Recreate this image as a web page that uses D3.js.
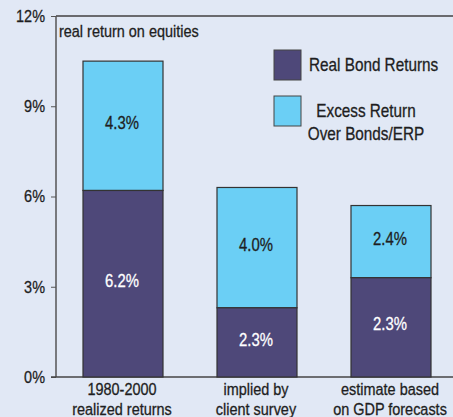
<!DOCTYPE html>
<html><head><meta charset="utf-8">
<script src="https://cdn.jsdelivr.net/npm/d3@7"></script>
<style>
html,body{margin:0;padding:0;background:#e1e8f5;}
svg{display:block;}
text{font-family:"Liberation Sans",Arial,sans-serif;}
</style></head>
<body>
<svg id="c" width="453" height="417"></svg>
<script>
const categories = [["1980-2000","realized returns"],["implied by","client survey"],["estimate based","on GDP forecasts"]];
const bondValues = [6.2, 2.3, 3.3];
const excessValues = [4.3, 4.0, 2.4];
const bondLabels = ["6.2%","2.3%","2.3%"];
const excessLabels = ["4.3%","4.0%","2.4%"];
const yTicks = [0,3,6,9,12];
const seriesNames = ["Real Bond Returns",["Excess Return","Over Bonds/ERP"]];
const colors = ["#4e4879","#6bcff5"];

(function(){
const SX = 0.85;
const svg = d3.select("#c");
function txt(parent, x, y, str, size, anchor, fill, dy){
  const gg = parent.append("g").attr("transform",`translate(${x},${y}) scale(${SX},1)`);
  return gg.append("text").attr("x",0).attr("y",0).attr("dy",dy||null).attr("text-anchor",anchor||"start")
    .attr("font-size",size).attr("fill",fill||"#1e1e22").attr("stroke",fill||"#1e1e22").attr("stroke-width",0.3).text(str);
}
const mL = 56, mR = 453, mT = 16, mB = 377;
const y = d3.scaleLinear().domain([0,12]).range([mB, mT]);
const x = d3.scaleBand().domain(d3.range(categories.length)).range([56, 458]).paddingInner(0.403).paddingOuter(0.2015);

svg.append("line").attr("x1",mL).attr("x2",mR).attr("y1",mT).attr("y2",mT).attr("stroke","#6a6a6e").attr("stroke-width",2);
const yAxis = d3.axisLeft(y).tickValues(yTicks).tickFormat("").tickSize(5);
const ga = svg.append("g").attr("transform",`translate(${mL},0)`).call(yAxis);
ga.select(".domain").attr("stroke","#555").attr("stroke-width",1.5).attr("d",`M0,${mT}V${mB}`);
ga.selectAll(".tick line").attr("stroke","#555");
yTicks.forEach(t=>{ txt(svg, mL-11, y(t), t+"%", 17, "end", "#1e1e22", "0.35em"); });
svg.append("line").attr("x1",mL-5).attr("x2",mR).attr("y1",mB).attr("y2",mB).attr("stroke","#444").attr("stroke-width",1.5);

const g = svg.append("g");
categories.forEach((c,i)=>{
  const x0 = x(i), w = x.bandwidth();
  const b = bondValues[i], e = excessValues[i];
  g.append("rect").attr("x",x0).attr("width",w).attr("y",y(b+e)).attr("height",y(b)-y(b+e))
    .attr("fill",colors[1]).attr("stroke","#333").attr("stroke-width",1.2);
  g.append("rect").attr("x",x0).attr("width",w).attr("y",y(b)).attr("height",y(0)-y(b))
    .attr("fill",colors[0]).attr("stroke","#333").attr("stroke-width",1.2);
  txt(g, x0+w/2-1, (y(b+e)+y(b))/2-3, excessLabels[i], 17.5, "middle", "#1e1e22", "0.35em");
  txt(g, x0+w/2-1, (y(b)+y(0))/2-3, bondLabels[i], 17.5, "middle", "#ffffff", "0.35em");
  c.forEach((line,j)=>{ txt(g, x0+w/2-1, 395+j*19.5, line, 17, "middle", "#1e1e22"); });
});

txt(svg, 59, 37, "real return on equities", 17, "start", "#1e1e22");

svg.append("rect").attr("x",274).attr("y",50).attr("width",27).attr("height",30).attr("fill",colors[0]).attr("stroke","#444").attr("stroke-width",1);
svg.append("rect").attr("x",274).attr("y",96).attr("width",27).attr("height",30).attr("fill",colors[1]).attr("stroke","#444").attr("stroke-width",1);
txt(svg, 309, 71, seriesNames[0], 18, "start", "#1e1e22");
seriesNames[1].forEach((t,j)=>{ txt(svg, 366, 117+j*23, t, 18, "middle", "#1e1e22"); });
})();
</script>
</body></html>
